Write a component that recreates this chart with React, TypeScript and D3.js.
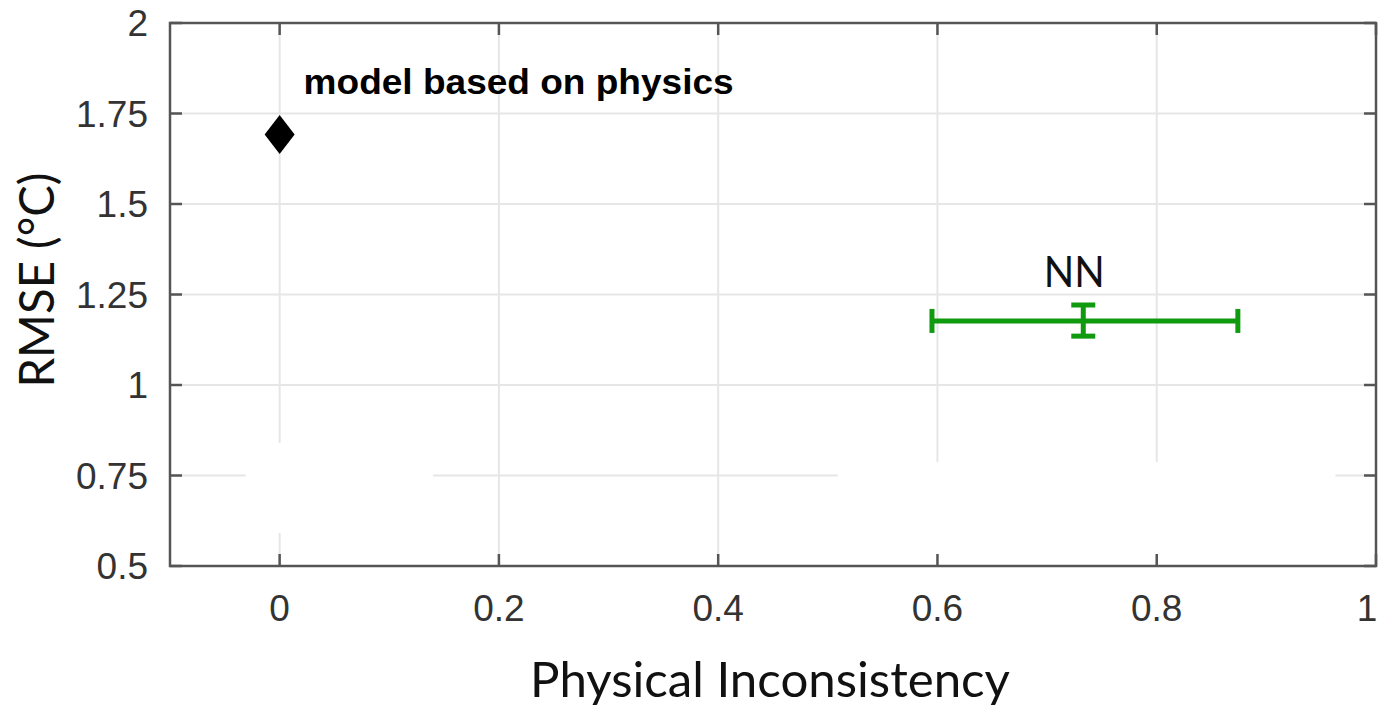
import React, { useEffect, useRef } from "react";
import * as d3 from "d3";

// tick values
const xTicks = [0, 0.2, 0.4, 0.6, 0.8, 1];
const yTicks = [0.5, 0.75, 1, 1.25, 1.5, 1.75, 2];
const yTickLabels = ["0.5", "0.75", "1", "1.25", "1.5", "1.75", "2"];

// physics model point
const physicsModel = { x: 0, y: 1.692, label: "model based on physics" };

// neural network: mean with error range
const nnModel = {
  x: 0.733,
  y: 1.177,
  xLow: 0.595,
  xHigh: 0.874,
  yLow: 1.135,
  yHigh: 1.221,
  label: "NN",
};

// areas erased in the original figure (x0, x1, y0, y1 in data units)
const erased = [
  [-0.031, 0.14, 0.591, 0.84],
  [0.509, 0.963, 0.511, 0.787],
];

function App() {
  const ref = useRef(null);

  useEffect(() => {
    d3.select(ref.current).selectAll("*").remove();

    const W = 1381;
    const H = 707;
    const left = 170;
    const right = 1376;
    const top = 23;
    const bottom = 566;

    const svg = d3
      .select(ref.current)
      .append("svg")
      .attr("width", W)
      .attr("height", H)
      .style("position", "absolute")
      .style("left", "0px")
      .style("top", "0px")
      .style("background", "#fff");

    const x = d3.scaleLinear().domain([-0.1, 1]).range([left, right]);
    const y = d3.scaleLinear().domain([0.5, 2]).range([bottom, top]);

    const grid = svg.append("g").attr("stroke", "#e6e6e6").attr("stroke-width", 2);
    grid
      .selectAll(".gx")
      .data(xTicks)
      .enter()
      .append("line")
      .attr("x1", (d) => x(d))
      .attr("x2", (d) => x(d))
      .attr("y1", top)
      .attr("y2", bottom);
    grid
      .selectAll(".gy")
      .data(yTicks.slice(1, -1))
      .enter()
      .append("line")
      .attr("x1", left)
      .attr("x2", right)
      .attr("y1", (d) => y(d))
      .attr("y2", (d) => y(d));

    svg
      .selectAll(".erase")
      .data(erased)
      .enter()
      .append("rect")
      .attr("x", (d) => x(d[0]))
      .attr("width", (d) => x(d[1]) - x(d[0]))
      .attr("y", (d) => y(d[3]))
      .attr("height", (d) => y(d[2]) - y(d[3]))
      .attr("fill", "#fff");

    // box and inward ticks
    const axisColor = "#555";
    svg
      .append("rect")
      .attr("x", left)
      .attr("y", top)
      .attr("width", right - left)
      .attr("height", bottom - top)
      .attr("fill", "none")
      .attr("stroke", axisColor)
      .attr("stroke-width", 2.5);

    const tickLen = 12;
    const ticks = svg.append("g").attr("stroke", axisColor).attr("stroke-width", 2.5);
    xTicks.forEach((t) => {
      ticks.append("line").attr("x1", x(t)).attr("x2", x(t)).attr("y1", bottom).attr("y2", bottom - tickLen);
      ticks.append("line").attr("x1", x(t)).attr("x2", x(t)).attr("y1", top).attr("y2", top + tickLen);
    });
    yTicks.forEach((t) => {
      ticks.append("line").attr("x1", left).attr("x2", left + tickLen).attr("y1", y(t)).attr("y2", y(t));
      ticks.append("line").attr("x1", right).attr("x2", right - tickLen).attr("y1", y(t)).attr("y2", y(t));
    });

    // tick labels
    svg
      .selectAll(".xl")
      .data(xTicks)
      .enter()
      .append("text")
      .attr("x", (d) => Math.min(x(d), W - 14))
      .attr("y", bottom + 55)
      .attr("text-anchor", "middle")
      .attr("font-family", "'Liberation Sans', Arial, sans-serif")
      .attr("font-size", 37)
      .attr("fill", "#333")
      .text((d) => String(d));

    svg
      .selectAll(".yl")
      .data(yTicks)
      .enter()
      .append("text")
      .attr("x", left - 22)
      .attr("y", (d) => y(d) + 13)
      .attr("text-anchor", "end")
      .attr("font-family", "'Liberation Sans', Arial, sans-serif")
      .attr("font-size", 37)
      .attr("fill", "#333")
      .text((d, i) => yTickLabels[i]);

    // axis titles
    svg
      .append("text")
      .attr("x", 770)
      .attr("y", 697)
      .attr("text-anchor", "middle")
      .attr("font-family", "Lato, 'Open Sans', sans-serif")
      .attr("font-size", 48)
      .attr("fill", "#111")
      .attr("textLength", 480)
      .attr("lengthAdjust", "spacingAndGlyphs")
      .text("Physical Inconsistency");

    svg
      .append("text")
      .attr("transform", "translate(54,280) rotate(-90)")
      .attr("text-anchor", "middle")
      .attr("font-family", "Lato, 'Open Sans', sans-serif")
      .attr("font-size", 48)
      .attr("fill", "#111")
      .attr("textLength", 215)
      .attr("lengthAdjust", "spacingAndGlyphs")
      .text("RMSE (°C)");

    // physics model diamond
    const px = x(physicsModel.x);
    const py = y(physicsModel.y);
    const dw = 15;
    const dh = 19.5;
    svg
      .append("path")
      .attr("d", `M${px},${py - dh}L${px + dw},${py}L${px},${py + dh}L${px - dw},${py}Z`)
      .attr("fill", "#000");

    svg
      .append("text")
      .attr("x", px + 24)
      .attr("y", y(physicsModel.y) - 40)
      .attr("font-family", "'Liberation Sans', Arial, sans-serif")
      .attr("font-weight", "bold")
      .attr("font-size", 35)
      .attr("fill", "#000")
      .attr("textLength", 430)
      .attr("lengthAdjust", "spacingAndGlyphs")
      .text(physicsModel.label);

    // NN error bars
    const green = "#0f9a0f";
    const eb = svg
      .append("g")
      .attr("stroke", green)
      .attr("stroke-width", 5)
      .attr("fill", "none");
    const cx = x(nnModel.x);
    const cy = y(nnModel.y);
    const cap = 12;
    eb.append("line").attr("x1", x(nnModel.xLow)).attr("x2", x(nnModel.xHigh)).attr("y1", cy).attr("y2", cy);
    [nnModel.xLow, nnModel.xHigh].forEach((v) => {
      eb.append("line").attr("x1", x(v)).attr("x2", x(v)).attr("y1", cy - cap).attr("y2", cy + cap);
    });
    eb.append("line").attr("x1", cx).attr("x2", cx).attr("y1", y(nnModel.yLow)).attr("y2", y(nnModel.yHigh));
    [nnModel.yLow, nnModel.yHigh].forEach((v) => {
      eb.append("line").attr("x1", cx - cap).attr("x2", cx + cap).attr("y1", y(v)).attr("y2", y(v));
    });

    svg
      .append("text")
      .attr("x", cx - 9)
      .attr("y", y(nnModel.yHigh) - 18)
      .attr("text-anchor", "middle")
      .attr("font-family", "Lato, 'Open Sans', sans-serif")
      .attr("font-size", 42)
      .attr("fill", "#111")
      .attr("textLength", 61)
      .attr("lengthAdjust", "spacingAndGlyphs")
      .text(nnModel.label);
  }, []);

  return <div ref={ref}></div>;
}

export default App;
